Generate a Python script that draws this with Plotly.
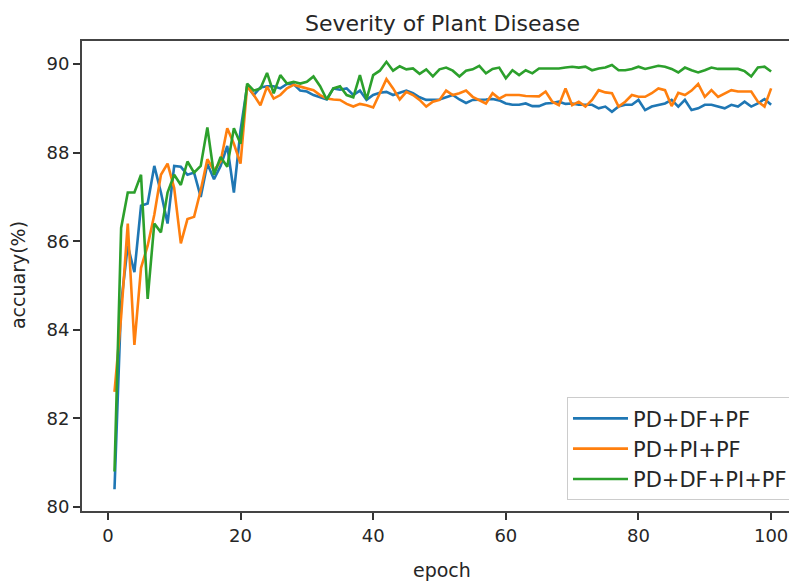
import plotly.graph_objects as go

# epochs 1..100
epochs = list(range(1, 101))

# PD+DF+PF
acc_pd_df_pf = [
    80.4, 84.6, 85.9, 85.3, 86.8, 86.85, 87.7, 87.1, 86.4, 87.7,
    87.68, 87.5, 87.55, 87.0, 87.75, 87.4, 87.7, 88.15, 87.1, 88.5,
    89.5, 89.3, 89.47, 89.5, 89.5, 89.45, 89.55, 89.55, 89.4, 89.38,
    89.3, 89.25, 89.2, 89.45, 89.42, 89.45, 89.3, 89.4, 89.19, 89.3,
    89.35, 89.37, 89.3, 89.35, 89.4, 89.34, 89.25, 89.19, 89.2, 89.2,
    89.25, 89.3, 89.2, 89.12, 89.19, 89.19, 89.2, 89.21, 89.18, 89.11,
    89.08, 89.08, 89.11, 89.05, 89.05, 89.11, 89.12, 89.15, 89.1, 89.11,
    89.08, 89.08, 89.08, 89.0, 89.04, 88.92, 89.04, 89.08, 89.08, 89.19,
    88.96, 89.04, 89.08, 89.11, 89.19, 89.04, 89.19, 88.96, 89.0, 89.08,
    89.08, 89.04, 89.0, 89.08, 89.04, 89.15, 89.04, 89.11, 89.21, 89.08,
]

# PD+PI+PF
acc_pd_pi_pf = [
    82.6, 84.3, 86.4, 83.66, 85.4, 85.9, 86.6, 87.5, 87.75, 87.2,
    85.95, 86.5, 86.55, 87.15, 87.85, 87.6, 87.8, 88.55, 88.2, 87.75,
    89.5, 89.3, 89.07, 89.49, 89.22, 89.3, 89.45, 89.53, 89.49, 89.45,
    89.41, 89.3, 89.22, 89.2, 89.19, 89.1, 89.04, 89.1, 89.07, 89.02,
    89.35, 89.66, 89.45, 89.2, 89.37, 89.3, 89.19, 89.04, 89.15, 89.19,
    89.4, 89.3, 89.34, 89.4, 89.26, 89.19, 89.11, 89.34, 89.22, 89.3,
    89.3, 89.3, 89.28, 89.28, 89.27, 89.38, 89.15, 89.07, 89.45, 89.07,
    89.15, 89.04, 89.19, 89.41, 89.36, 89.34, 89.04, 89.15, 89.3, 89.26,
    89.26, 89.34, 89.45, 89.41, 89.05, 89.35, 89.3, 89.4, 89.55, 89.26,
    89.41, 89.26, 89.34, 89.41, 89.38, 89.38, 89.38, 89.15, 89.04, 89.45,
]

# PD+DF+PI+PF
acc_pd_df_pi_pf = [
    80.8, 86.3, 87.1, 87.1, 87.5, 84.7, 86.4, 86.2, 87.1, 87.5,
    87.27, 87.8, 87.55, 87.7, 88.57, 87.5, 87.9, 87.68, 88.55, 88.2,
    89.56, 89.4, 89.45, 89.8, 89.34, 89.75, 89.56, 89.6, 89.56, 89.6,
    89.72, 89.5, 89.2, 89.45, 89.5, 89.3, 89.25, 89.75, 89.2, 89.75,
    89.85, 90.05, 89.85, 89.95, 89.88, 89.9, 89.78, 89.88, 89.72, 89.88,
    89.92, 89.85, 89.72, 89.85, 89.88, 89.96, 89.79, 89.89, 89.92, 89.68,
    89.86, 89.75, 89.86, 89.79, 89.9, 89.9, 89.9, 89.9, 89.92, 89.94,
    89.92, 89.94, 89.86, 89.9, 89.92, 89.98, 89.86, 89.86, 89.89, 89.94,
    89.89, 89.92, 89.96, 89.94, 89.89, 89.81, 89.92, 89.86, 89.81, 89.86,
    89.92, 89.89, 89.89, 89.9, 89.89, 89.84, 89.72, 89.92, 89.94, 89.83,
]

series = [
    ("PD+DF+PF", acc_pd_df_pf, "#1f77b4"),
    ("PD+PI+PF", acc_pd_pi_pf, "#ff7f0e"),
    ("PD+DF+PI+PF", acc_pd_df_pi_pf, "#2ca02c"),
]

x_ticks = [0, 20, 40, 60, 80, 100]
y_ticks = [80, 82, 84, 86, 88, 90]

FONT = "DejaVu Sans"
TXT = "#262626"

fig = go.Figure()
for name, vals, color in series:
    fig.add_trace(go.Scatter(x=epochs, y=vals, mode="lines", name=name,
                             line=dict(color=color, width=2.6)))

# the page body has an 8px margin, so the figure is a bit smaller than the window
fig.update_layout(
    width=789, height=575,
    margin=dict(l=74, r=0, t=33, b=72),
    plot_bgcolor="white", paper_bgcolor="white",
    font=dict(family=FONT, size=19, color=TXT),
    showlegend=True,
    legend=dict(x=0.9944, xanchor="right", y=0.023, yanchor="bottom",
                bordercolor="#cccccc", borderwidth=1, bgcolor="rgba(255,255,255,0.8)",
                itemwidth=55, tracegroupgap=0,
                font=dict(family=FONT, size=21, color=TXT)),
    annotations=[
        dict(text="Severity of Plant Disease", x=0.5035, y=1, xref="paper", yref="paper",
             xanchor="center", yanchor="middle", yshift=18, showarrow=False,
             font=dict(size=22, color=TXT)),
        dict(text="epoch", x=0.5035, y=0, xref="paper", yref="paper",
             xanchor="center", yanchor="middle", yshift=-59, showarrow=False,
             font=dict(size=19, color=TXT)),
        dict(text="accuary(%)", x=-0.0895, y=0.502, xref="paper", yref="paper",
             xanchor="center", yanchor="middle", textangle=-90, showarrow=False,
             font=dict(size=19, color=TXT)),
    ],
)

fig.update_xaxes(range=[-3.9, 103.9], tickvals=x_ticks, ticks="outside", ticklen=7,
                 tickwidth=1.5, tickcolor="#333", showline=True, linecolor="#444",
                 linewidth=1.8, mirror=True, showgrid=False, zeroline=False,
                 tickfont=dict(size=18))
fig.update_yaxes(range=[79.91, 90.52], tickvals=y_ticks, ticks="outside", ticklen=7,
                 tickwidth=1.5, tickcolor="#333", showline=True, linecolor="#444",
                 linewidth=1.8, showgrid=False, zeroline=False,
                 tickfont=dict(size=18))

fig.write_html("out.html")
